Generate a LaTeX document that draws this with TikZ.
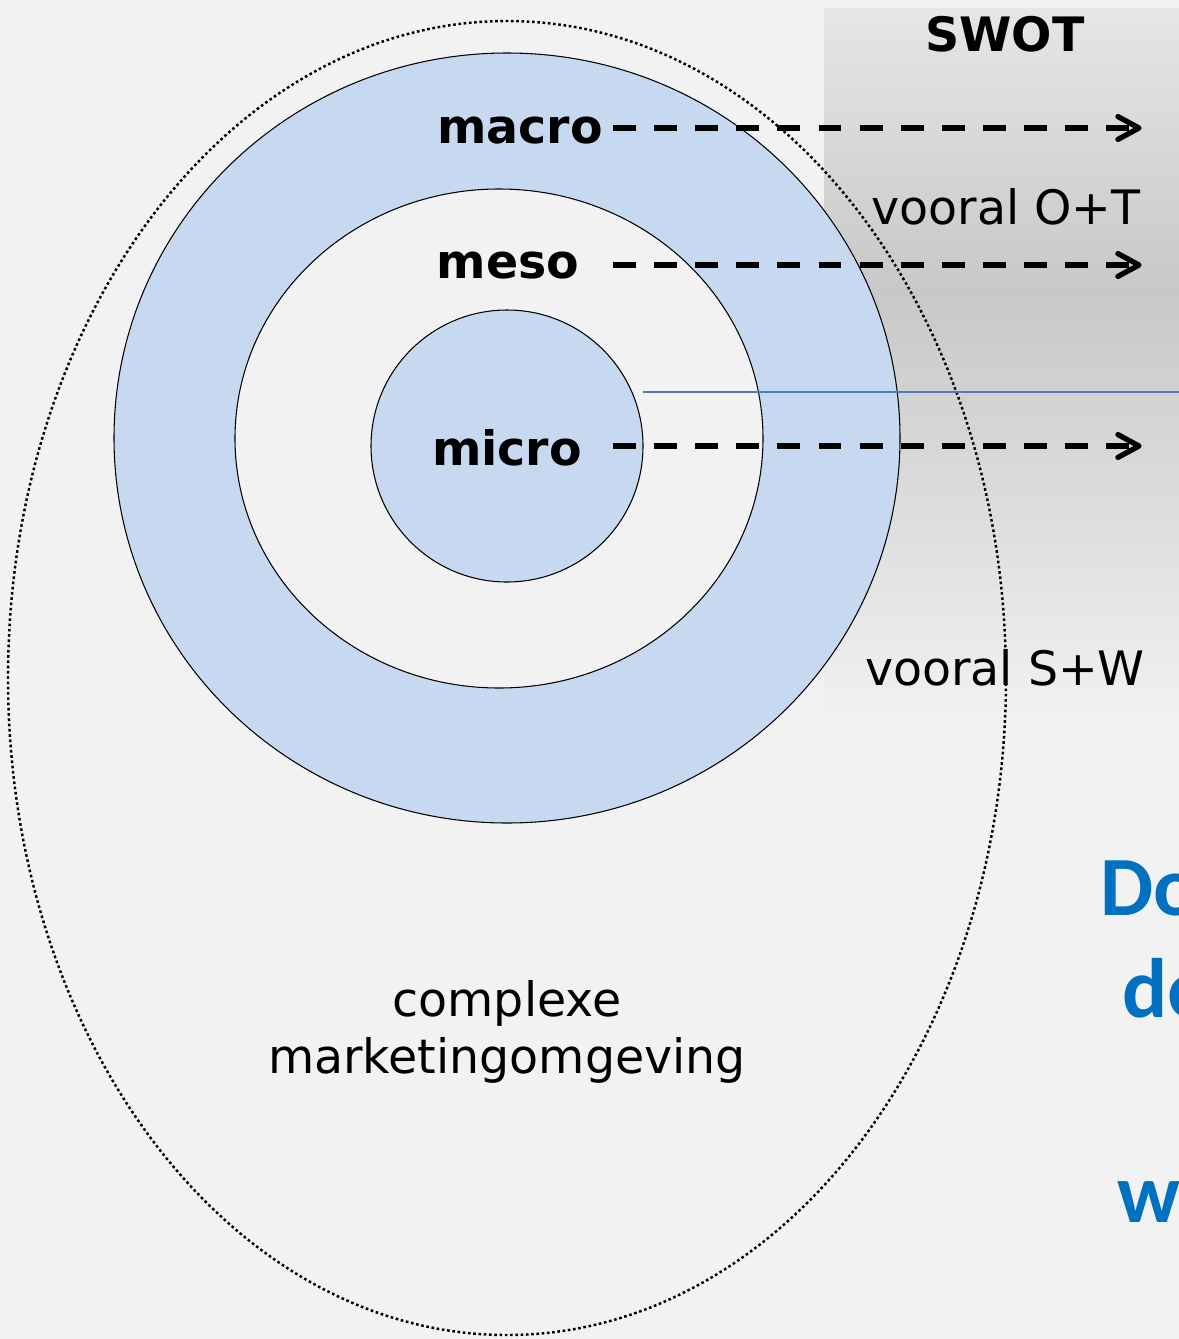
\documentclass[tikz,border=0pt]{standalone}
\usepackage{fontspec}
\setmainfont{DejaVu Sans}
\newfontfamily\calfont{Carlito}
\definecolor{bggray}{HTML}{F2F2F2}
\definecolor{paleblue}{HTML}{C6D9F1}
\definecolor{swotlight}{HTML}{E6E6E6}
\definecolor{swotdark}{HTML}{C8C8C8}
\definecolor{splitblue}{HTML}{4A7EBB}
\definecolor{tagblue}{HTML}{0070C0}
\tikzset{
  ring/.style={draw=black,line width=0.6pt},
  lbl/.style={font=\fontsize{27}{32.4}\selectfont,inner sep=0pt},
  boldlbl/.style={lbl,font=\fontsize{27}{32.4}\selectfont\bfseries},
  trend/.style={line width=3pt,dash pattern=on 13pt off 10.4pt},
  chevron/.style={line width=3pt,line cap=round,line join=round},
  bigblue/.style={inner sep=0pt,anchor=base west,text=tagblue,
    font=\calfont\fontsize{48}{56}\selectfont\bfseries}
}
\begin{document}
\begin{tikzpicture}[x=0.02cm,y=-0.02cm]
  \useasboundingbox[fill=bggray] (0,0) rectangle (1179,1339);
  \shade[top color=swotlight,bottom color=swotdark] (824,8) rectangle (1179,290);
  \shade[top color=swotdark,bottom color=bggray] (824,290) rectangle (1179,730);
  \draw[ring,fill=paleblue] (507,438) ellipse (393 and 385);
  \draw[ring,fill=bggray] (499,438.5) ellipse (264 and 249.5);
  \draw[ring,fill=paleblue] (507,446) ellipse (136 and 136);
  \draw[line width=1.4pt,dash pattern=on 1.5pt off 1.5pt] (507,678) ellipse (499 and 657);
  \draw
    (520,143) node[boldlbl,anchor=base] (macro){macro}
    (508,278) node[boldlbl,anchor=base] (meso){meso}
    (507,465) node[boldlbl,anchor=base] (micro){micro}
    (1005,51) node[boldlbl,anchor=base] (swot){SWOT}
    (1006,224) node[lbl,anchor=base] (ot){vooral O+T}
    (1005,685) node[lbl,anchor=base] (sw){vooral S+W}
    (507,1073) node[lbl,anchor=base,align=center] (omgeving){complexe\\marketingomgeving};
  \coordinate (macroS) at (613,128);
  \coordinate (macroE) at (1139,128);
  \coordinate (mesoS) at (613,265);
  \coordinate (mesoE) at (1139,265);
  \coordinate (microS) at (613,446);
  \coordinate (microE) at (1139,446);
  \coordinate (splitS) at (643,392);
  \coordinate (splitE) at (1179,392);
  \begin{scope}[trend]
    \draw (macroS) to (macroE);
    \draw (mesoS) to (mesoE);
    \draw (microS) to (microE);
  \end{scope}
  \foreach \tip in {macroE,mesoE,microE}
    \draw[chevron] ([xshift=-12pt,yshift=6.5pt]\tip) -- (\tip) -- ([xshift=-12pt,yshift=-6.5pt]\tip);
  \draw[splitblue,line width=1.1pt] (splitS) to (splitE);
  \draw
    (1100,915) node[bigblue] (do){Do}
    (1122,1017) node[bigblue] (de){de}
    (1117,1222) node[bigblue] (w){w};
\end{tikzpicture}
\end{document}
